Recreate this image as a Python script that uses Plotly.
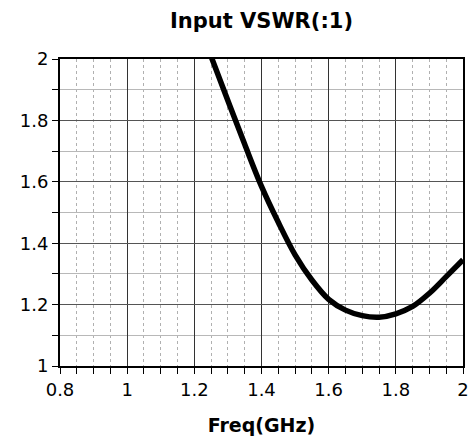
import plotly.graph_objects as go

freq = [1.25, 1.30, 1.35, 1.40, 1.45, 1.50, 1.55, 1.60, 1.65, 1.70, 1.75, 1.80, 1.85, 1.90, 1.95, 2.00]
vswr = [2.008, 1.864, 1.722, 1.585, 1.468, 1.362, 1.28, 1.217, 1.182, 1.164, 1.159, 1.17, 1.194, 1.237, 1.291, 1.346]

fig = go.Figure()
fig.add_trace(go.Scatter(x=freq, y=vswr, mode="lines",
                         line=dict(color="black", width=5.5, shape="spline", smoothing=1.0),
                         showlegend=False, cliponaxis=True, hoverinfo="skip"))

font = "Tahoma, DejaVu Sans, sans-serif"
fig.update_layout(
    width=470, height=444,
    margin=dict(l=60, r=7, t=59, b=78),
    paper_bgcolor="white", plot_bgcolor="white",
    title=dict(text="<b>Input VSWR(:1)</b>", xref="paper", x=0.5, xanchor="center",
               y=0.953, yanchor="middle",
               font=dict(family=font, size=21, color="black")),
    font=dict(family=font, size=18, color="black"),
)
fig.update_xaxes(
    range=[0.8, 2.0], dtick=0.2, tick0=0.8, automargin=False,
    ticklabeloverflow="allow",
    showgrid=True, gridcolor="#333", gridwidth=1,
    showline=True, linecolor="black", linewidth=2, mirror=True,
    ticks="outside", ticklen=6, tickcolor="black",
    zeroline=False,
    minor=dict(dtick=0.05, showgrid=True, gridcolor="#b0b0b0", griddash="dot",
               ticks="outside", ticklen=6, tickcolor="black"),
    title=dict(text="<b>Freq(GHz)</b>", font=dict(family=font, size=19), standoff=20),
)
fig.update_yaxes(
    range=[1.0, 2.0], dtick=0.2, tick0=1.0, automargin=False,
    ticklabeloverflow="allow",
    showgrid=True, gridcolor="#555", gridwidth=1,
    showline=True, linecolor="black", linewidth=2, mirror=True,
    ticks="outside", ticklen=6, tickcolor="black",
    zeroline=False,
    minor=dict(dtick=0.1, showgrid=True, gridcolor="#b8b8b8",
               ticks="outside", ticklen=6, tickcolor="black"),
)
fig.write_html(
    "out.html",
    config={"displayModeBar": False},
    post_script="document.body.style.margin='0';document.documentElement.style.overflow='hidden';document.body.style.overflow='hidden';",
)
